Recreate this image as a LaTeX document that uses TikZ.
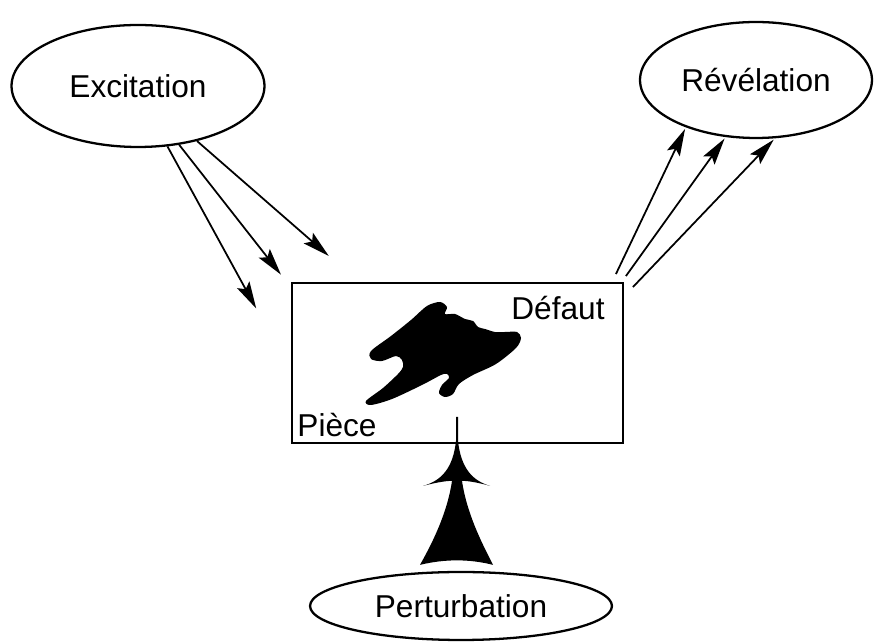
\documentclass[tikz,border=0pt]{standalone}
\usepackage{fontspec}
\setmainfont{Liberation Sans}
\usetikzlibrary{shapes.geometric, arrows.meta, calc}

\begin{document}
\begin{tikzpicture}[x=0.02cm, y=-0.02cm,
      oval/.style={ellipse, draw=black, line width=1.3pt, inner sep=0pt,
                   font=\fontsize{18}{20}\selectfont},
      lbl/.style={font=\fontsize{18}{20}\selectfont, inner sep=0pt},
      arr/.style={-{Stealth[length=5.4mm, width=2.8mm, inset=1mm]}, line width=1pt, shorten >=1pt}
    ]
    \useasboundingbox (0,0) rectangle (880,644);
    \node[oval, minimum width=5.06cm, minimum height=2.44cm] (exc)  at (138,86)  {Excitation};
    \node[oval, minimum width=4.64cm, minimum height=2.32cm] (rev)  at (756,80)  {Révélation};
    \node[oval, minimum width=6.04cm, minimum height=1.36cm] (pert) at (461,606) {Perturbation};
    \node[rectangle, draw=black, line width=1.1pt,
          minimum width=6.62cm, minimum height=3.2cm] (piece) at (457.5,363) {};
    \node[lbl] (def) at (558,308) {Défaut};
    \node[lbl] (pc)  at (337,425) {Pièce};
    % the flaw
    \fill plot[smooth cycle, tension=0.5] coordinates {
      (440,302) (447,307) (445,314) (455,314) (465,319) (473,321) (478,327)
      (485,329) (495,332) (505,332) (517,332) (521,338) (516,348) (496,364)
      (473,375) (459,384) (453,394) (445,397) (439,393) (442,385) (449,378)
      (447,374) (441,375) (422,385) (392,399) (371,405) (366,401) (383,388)
      (398,374) (403,367) (402,360) (396,356) (382,361) (371,359) (371,351)
      (391,336) (411,320) (427,306)};
    % excitation
    \coordinate (e1) at ($(piece.north west)+(-34,28)$);
    \coordinate (e2) at ($(piece.north west)+(-9,-6)$);
    \coordinate (e3) at ($(piece.north west)+(39,-25)$);
    \draw[arr] (exc.-64) -- (e1);
    \draw[arr] (exc.-55) -- (e2);
    \draw[arr] (exc.-43) -- (e3);
    % revelation
    \coordinate (r1) at ($(piece.north east)+(-8,-8)$);
    \coordinate (r2) at ($(piece.north east)+(2,-6)$);
    \coordinate (r3) at ($(piece.north east)+(9,5)$);
    \draw[arr] (r1) -- (rev.214);
    \draw[arr] (r2) -- (rev.-118);
    \draw[arr] (r3) -- (rev.-72);
    % perturbation
    \begin{scope}[shift={($(pert.north)+(-4,0)$)}]
      \fill (-1,-154) -- (1,-154) -- (1,-130)
        .. controls (4,-102) and (16,-90) .. (33,-85)
        .. controls (22,-88) and (12,-90) .. (5,-90)
        .. controls (10,-55) and (28,-22) .. (36,-6)
        .. controls (12,-12) and (-12,-12) .. (-37,-6)
        .. controls (-28,-22) and (-10,-55) .. (-5,-90)
        .. controls (-12,-90) and (-22,-88) .. (-34,-85)
        .. controls (-16,-90) and (-4,-102) .. (-1,-130) -- cycle;
    \end{scope}
\end{tikzpicture}
\end{document}
